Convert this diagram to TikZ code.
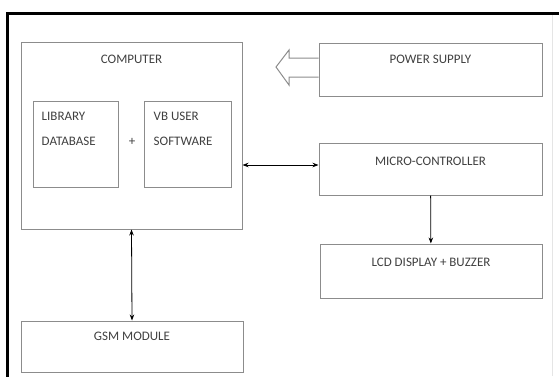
\documentclass[tikz,border=0pt]{standalone}
\usepackage{fontspec}
\setmainfont{Carlito}
\usetikzlibrary{arrows.meta,positioning}

\begin{document}
\begin{tikzpicture}[x=1pt,y=-1pt,
  blk/.style 2 args={draw=black!45, line width=1pt, minimum width=#1, minimum height=#2, inner sep=0pt},
  txt/.style={text=black!75, font=\fontsize{13}{25}\selectfont, inner sep=0pt},
  link/.style={line width=0.8pt, {Stealth[length=6pt,width=4.5pt]}-{Stealth[length=6pt,width=4.5pt]}},
  onelink/.style={line width=0.8pt, -{Stealth[length=6pt,width=4.5pt]}}]
\useasboundingbox (0,0) rectangle (559,376);
\clip (0,0) rectangle (559,376);
% outer frame
\draw[line width=3pt] (7.5,390) -- (7.5,13) -- (575,13);
\draw[black!10] (552,15) -- (552,376);
% blocks
\node[blk={221}{187}] (comp) at (131.5,135.5) {};
\node[blk={85}{86}] (lib) at (75.5,144) {};
\node[blk={87}{86}] (vb) at (187.5,144) {};
\node[blk={223}{53}] (psu) at (430.5,69.5) {};
\node[blk={223}{52}] (mcu) at (430.5,169) {};
\node[blk={222}{54}] (lcd) at (431,271) {};
\node[blk={222}{51}] (gsm) at (132,346.5) {};
% labels
\node[txt] (comptext) at ([yshift=-18pt]comp.north) {COMPUTER};
\node[txt, align=left, anchor=north west] (libtext) at ([xshift=9pt,yshift=-11pt]lib.north west) {LIBRARY\\DATABASE};
\node[txt, align=left, anchor=north west] (vbtext) at ([xshift=10pt,yshift=-11pt]vb.north west) {VB USER\\SOFTWARE};
\node[txt] (plus) at (132,142) {+};
\node[txt] (psutext) at ([yshift=-17pt]psu.north) {POWER SUPPLY};
\node[txt] (mcutext) at ([yshift=-19pt]mcu.north) {MICRO-CONTROLLER};
\node[txt] (lcdtext) at ([yshift=-19pt]lcd.north) {LCD DISPLAY + BUZZER};
\node[txt] (gsmtext) at ([yshift=-16pt]gsm.north) {GSM MODULE};
% power arrow
\draw[black!45, line width=1pt] (psu.west |- 0,58) -- (289,58) -- (289,50) -- (276,67)
  -- (289,85) -- (289,77) -- (psu.west |- 0,77);
% connections
\draw[link] ([yshift=4pt]mcu.west -| comp.east) -- ([yshift=4pt]mcu.west);
\draw[onelink] (mcu) -- (lcd);
\draw[link] (comp.south) -- (gsm.north);
\end{tikzpicture}
\end{document}
